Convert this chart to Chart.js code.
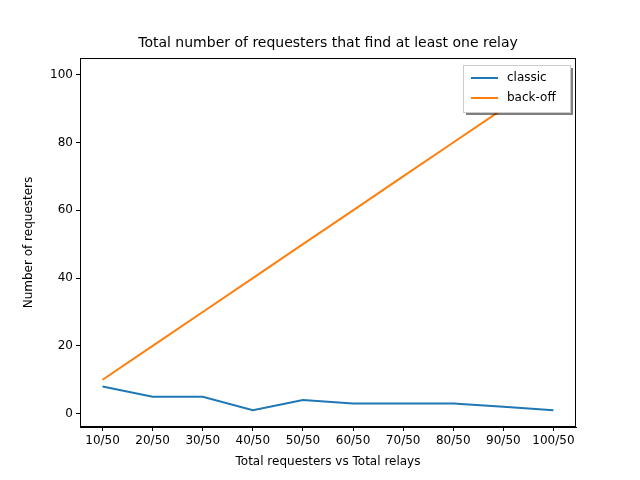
<!DOCTYPE html>
<html><head><meta charset="utf-8">
<script src="https://cdn.jsdelivr.net/npm/chart.js@4"></script>
<style>body{margin:0;background:#fff}#c{display:block}</style>
</head><body>
<canvas id="c" width="640" height="480"></canvas>
<script>
const categories = ["10/50","20/50","30/50","40/50","50/50","60/50","70/50","80/50","90/50","100/50"];
const classic = [8,5,5,1,4,3,3,3,2,1];
const backoff = [10,20,30,40,50,60,70,80,90,100];
const yTicks = [0,20,40,60,80,100];
const chartTitle = 'Total number of requesters that find at least one relay';
const FONT = "'DejaVu Sans', sans-serif";

const legendBox = {
  id: 'legendBox',
  afterDraw(chart) {
    const ctx = chart.ctx, a = chart.chartArea;
    ctx.save();
    // title centred over plot area
    ctx.fillStyle = '#000'; ctx.font = '14px ' + FONT;
    ctx.textAlign = 'center'; ctx.textBaseline = 'middle';
    ctx.fillText(chartTitle, (a.left + a.right) / 2, 43);
    ctx.textAlign = 'left';
    // frame
    ctx.strokeStyle = '#000'; ctx.lineWidth = 1;
    ctx.strokeRect(a.left + 0.5, a.top + 0.5, a.right - a.left - 1, a.bottom - a.top - 1);
    // legend
    const w = 107, h = 47, x = a.right - w - 6, y = a.top + 7;
    ctx.fillStyle = 'rgba(0,0,0,0.5)';
    ctx.fillRect(x + 3, y + 3, w, h);
    ctx.fillStyle = '#fff'; ctx.fillRect(x, y, w, h);
    ctx.strokeStyle = '#ccc'; ctx.strokeRect(x + 0.5, y + 0.5, w, h);
    chart.data.datasets.forEach((ds, i) => {
      const ly = y + 13 + i * 20;
      ctx.strokeStyle = ds.borderColor; ctx.lineWidth = 2;
      ctx.beginPath(); ctx.moveTo(x + 8, ly); ctx.lineTo(x + 35, ly); ctx.stroke();
      ctx.fillStyle = '#000'; ctx.font = '12px ' + FONT; ctx.textBaseline = 'middle';
      ctx.fillText(ds.label, x + 44, ly);
    });
    ctx.restore();
  }
};

new Chart(document.getElementById('c'), {
  type: 'line',
  data: {
    datasets: [
      { label: 'classic', data: classic.map((v, i) => ({x: i, y: v})), borderColor: '#1f77b4', borderWidth: 2, pointRadius: 0, tension: 0 },
      { label: 'back-off', data: backoff.map((v, i) => ({x: i, y: v})), borderColor: '#ff7f0e', borderWidth: 2, pointRadius: 0, tension: 0 }
    ]
  },
  options: {
    responsive: false, animation: false,
    layout: { padding: { left: 22, right: 64, top: 58, bottom: 11 } },
    plugins: { legend: { display: false }, tooltip: { enabled: false } },
    scales: {
      x: {
        type: 'linear', min: -0.45, max: 9.45,
        afterBuildTicks: s => { s.ticks = categories.map((_, i) => ({ value: i })); },
        afterFit: s => { s.height = 42; },
        ticks: { autoSkip: false, maxRotation: 0, color: '#000', font: { family: FONT, size: 12 }, callback: v => categories[v] },
        grid: { drawOnChartArea: false, tickLength: 4, color: '#000' },
        border: { color: '#000' },
        title: { display: true, text: 'Total requesters vs Total relays', color: '#000', font: { family: FONT, size: 12 }, padding: { top: 0, bottom: 0 } }
      },
      y: {
        min: -3.95, max: 104.95,
        afterBuildTicks: s => { s.ticks = yTicks.map(v => ({ value: v })); },
        afterFit: s => { s.width = 58; },
        ticks: { color: '#000', font: { family: FONT, size: 12 } },
        grid: { drawOnChartArea: false, tickLength: 4, color: '#000' },
        border: { color: '#000' },
        title: { display: true, text: 'Number of requesters', color: '#000', font: { family: FONT, size: 12 }, padding: 0 }
      }
    }
  },
  plugins: [legendBox]
});
</script>
</body></html>
